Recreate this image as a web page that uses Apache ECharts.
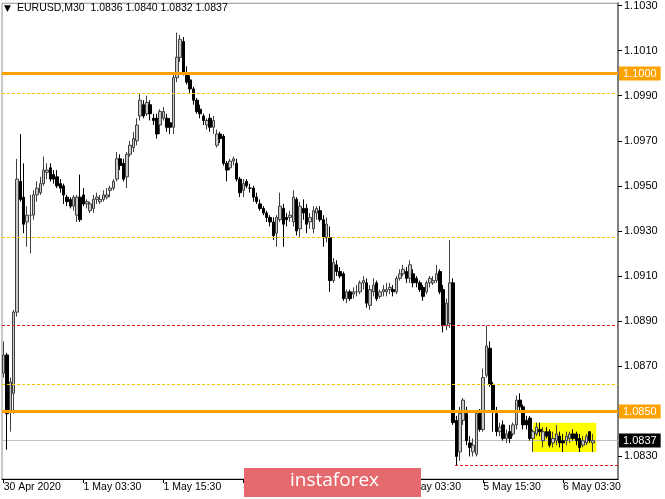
<!DOCTYPE html>
<html><head><meta charset="utf-8">
<script src="https://cdn.jsdelivr.net/npm/echarts@6/dist/echarts.min.js"></script>
<style>html,body{margin:0;padding:0;background:#fff}#c{width:665px;height:499px}</style>
</head><body><div id="c"></div>
<script>
// ---- data (EURUSD M30) ----
const opens = [1.0867,1.0875,1.0850,1.0858,1.0894,1.0952,1.0945,1.0934,1.0937,1.0937,
1.0946,1.0947,1.0951,1.0956,1.0958,1.0955,1.0954,1.0951,1.0950,1.0945,
1.0944,1.0941,1.0937,1.0945,1.0946,1.0942,1.0939,1.0940,1.0944,1.0943,
1.0944,1.0945,1.0948,1.0949,1.0953,1.0962,1.0960,1.0954,1.0964,1.0967,
1.0970,1.0981,1.0986,1.0982,1.0986,1.0980,1.0980,1.0977,1.0980,1.0980,
1.0978,1.0976,1.0998,1.1007,1.1014,1.1000,1.0997,1.0993,1.0988,1.0984,
1.0981,1.0977,1.0980,1.0976,1.0968,1.0973,1.0972,1.0960,1.0958,1.0961,
1.0960,1.0953,1.0948,1.0952,1.0949,1.0949,1.0945,1.0942,1.0940,1.0938,
1.0936,1.0934,1.0929,1.0935,1.0940,1.0936,1.0936,1.0934,1.0944,1.0931,
1.0940,1.0940,1.0934,1.0931,1.0938,1.0939,1.0935,1.0927,1.0927,1.0908,
1.0915,1.0912,1.0911,1.0900,1.0903,1.0902,1.0903,1.0903,1.0907,1.0907,
1.0897,1.0903,1.0907,1.0901,1.0903,1.0903,1.0904,1.0904,1.0903,1.0909,
1.0911,1.0912,1.0909,1.0911,1.0909,1.0907,1.0905,1.0903,1.0907,1.0907,
1.0908,1.0912,1.0904,1.0888,1.0889,1.0907,1.0846,1.0832,1.0846,1.0849,
1.0836,1.0832,1.0831,1.0849,1.0842,1.0866,1.0878,1.0862,1.0849,1.0841,
1.0844,1.0838,1.0841,1.0840,1.0844,1.0855,1.0852,1.0846,1.0847,1.0838,
1.0840,1.0842,1.0837,1.0841,1.0841,1.0836,1.0837,1.0839,1.0837,1.0837,
1.0838,1.0840,1.0840,1.0838,1.0835,1.0836,1.0841,1.0836];
const closes = [1.0875,1.0849,1.0863,1.0894,1.0953,1.0944,1.0933,1.0937,1.0937,1.0946,
1.0949,1.0951,1.0957,1.0957,1.0953,1.0953,1.0950,1.0949,1.0946,1.0943,
1.0941,1.0945,1.0945,1.0935,1.0942,1.0943,1.0942,1.0944,1.0945,1.0944,
1.0946,1.0946,1.0949,1.0952,1.0962,1.0959,1.0953,1.0964,1.0968,1.0971,
1.0977,1.0988,1.0981,1.0987,1.0982,1.0979,1.0973,1.0983,1.0983,1.0976,
1.0976,1.0998,1.1007,1.1015,1.1000,1.0996,1.0993,1.0988,1.0983,1.0982,
1.0979,1.0979,1.0976,1.0979,1.0973,1.0971,1.0960,1.0957,1.0961,1.0962,
1.0953,1.0947,1.0951,1.0950,1.0949,1.0945,1.0943,1.0940,1.0938,1.0936,
1.0934,1.0928,1.0936,1.0941,1.0933,1.0935,1.0937,1.0945,1.0930,1.0941,
1.0938,1.0933,1.0936,1.0939,1.0940,1.0935,1.0927,1.0933,1.0908,1.0916,
1.0912,1.0910,1.0900,1.0903,1.0900,1.0903,1.0903,1.0907,1.0908,1.0898,
1.0904,1.0906,1.0900,1.0903,1.0904,1.0904,1.0905,1.0903,1.0909,1.0911,
1.0913,1.0909,1.0915,1.0907,1.0907,1.0904,1.0901,1.0907,1.0909,1.0908,
1.0911,1.0903,1.0888,1.0898,1.0907,1.0845,1.0830,1.0849,1.0855,1.0837,
1.0834,1.0835,1.0849,1.0842,1.0865,1.0879,1.0862,1.0850,1.0841,1.0843,
1.0838,1.0840,1.0838,1.0844,1.0855,1.0852,1.0844,1.0844,1.0838,1.0841,
1.0843,1.0841,1.0841,1.0839,1.0835,1.0838,1.0840,1.0836,1.0836,1.0839,
1.0840,1.0838,1.0837,1.0834,1.0837,1.0839,1.0837,1.0837];
const highs = [1.0881,1.0876,1.0865,1.0895,1.0962,1.0973,1.0960,1.0941,1.0946,1.0948,
1.0952,1.0954,1.0963,1.0960,1.0960,1.0957,1.0957,1.0953,1.0951,1.0946,
1.0945,1.0946,1.0946,1.0955,1.0949,1.0944,1.0943,1.0946,1.0947,1.0946,
1.0948,1.0949,1.0950,1.0953,1.0965,1.0964,1.0962,1.0965,1.0970,1.0974,
1.0980,1.0991,1.0988,1.0990,1.0988,1.0982,1.0982,1.0984,1.0985,1.0982,
1.0980,1.1000,1.1018,1.1017,1.1016,1.1003,1.0999,1.0994,1.0989,1.0986,
1.0982,1.0980,1.0982,1.0981,1.0975,1.0974,1.0973,1.0961,1.0962,1.0963,
1.0962,1.0954,1.0953,1.0953,1.0951,1.0950,1.0947,1.0944,1.0941,1.0939,
1.0937,1.0936,1.0937,1.0947,1.0942,1.0938,1.0939,1.0948,1.0945,1.0943,
1.0944,1.0942,1.0938,1.0941,1.0941,1.0941,1.0937,1.0936,1.0932,1.0918,
1.0917,1.0914,1.0912,1.0904,1.0904,1.0905,1.0906,1.0908,1.0910,1.0909,
1.0906,1.0909,1.0908,1.0904,1.0906,1.0907,1.0907,1.0906,1.0910,1.0913,
1.0915,1.0914,1.0917,1.0913,1.0910,1.0908,1.0906,1.0908,1.0910,1.0910,
1.0915,1.0913,1.0906,1.0900,1.0926,1.0909,1.0848,1.0852,1.0856,1.0852,
1.0839,1.0838,1.0850,1.0851,1.0869,1.0888,1.0881,1.0863,1.0852,1.0845,
1.0846,1.0842,1.0844,1.0845,1.0857,1.0858,1.0853,1.0848,1.0848,1.0842,
1.0845,1.0845,1.0843,1.0843,1.0842,1.0841,1.0844,1.0841,1.0840,1.0841,
1.0841,1.0842,1.0841,1.0840,1.0839,1.0840,1.0841,1.0840];
const lows = [1.0865,1.0833,1.0841,1.0849,1.0892,1.0943,1.0929,1.0923,1.0920,1.0935,
1.0943,1.0946,1.0950,1.0953,1.0952,1.0951,1.0949,1.0947,1.0942,1.0941,
1.0940,1.0939,1.0934,1.0934,1.0941,1.0940,1.0938,1.0938,1.0942,1.0942,
1.0943,1.0944,1.0945,1.0948,1.0952,1.0957,1.0952,1.0949,1.0963,1.0965,
1.0968,1.0979,1.0980,1.0981,1.0979,1.0977,1.0971,1.0973,1.0979,1.0974,
1.0973,1.0973,1.0996,1.1005,1.0999,1.0995,1.0991,1.0986,1.0982,1.0980,
1.0977,1.0975,1.0974,1.0973,1.0967,1.0969,1.0959,1.0952,1.0957,1.0959,
1.0952,1.0945,1.0945,1.0949,1.0947,1.0943,1.0942,1.0939,1.0937,1.0934,
1.0932,1.0926,1.0923,1.0934,1.0923,1.0932,1.0934,1.0932,1.0928,1.0927,
1.0935,1.0929,1.0931,1.0929,1.0935,1.0934,1.0923,1.0925,1.0903,1.0907,
1.0910,1.0909,1.0899,1.0898,1.0899,1.0900,1.0901,1.0902,1.0904,1.0896,
1.0895,1.0901,1.0899,1.0900,1.0901,1.0901,1.0902,1.0901,1.0902,1.0908,
1.0910,1.0907,1.0907,1.0905,1.0905,1.0903,1.0899,1.0902,1.0905,1.0906,
1.0907,1.0902,1.0885,1.0886,1.0887,1.0844,1.0826,1.0828,1.0844,1.0835,
1.0830,1.0830,1.0830,1.0841,1.0841,1.0865,1.0861,1.0841,1.0839,1.0839,
1.0837,1.0836,1.0836,1.0839,1.0842,1.0850,1.0842,1.0842,1.0837,1.0832,
1.0839,1.0839,1.0834,1.0838,1.0834,1.0834,1.0835,1.0834,1.0832,1.0835,
1.0836,1.0837,1.0835,1.0832,1.0834,1.0835,1.0836,1.0832];

const firstBarTime = Date.UTC(2020, 3, 30, 15, 30);   // first visible bar
const emptyBarsRight = 7;                              // chart shift area
const firstLabel = '30 Apr 2020';
const timeTickLabels = ['1 May 03:30','1 May 15:30','4 May 03:30','4 May 15:30','5 May 03:30','5 May 15:30','6 May 03:30'];
const priceTickLabels = [1.0830,1.0870,1.0890,1.0910,1.0930,1.0950,1.0970,1.0990,1.1010,1.1030];
const priceMin = 1.0820, priceMax = 1.1031;

const orangeLevels = [1.1000, 1.0850];
const yellowLevels = [1.0991, 1.0927, 1.0862];
const redLevels = [1.0888];
const redLowLevels = [1.0826];
const redLowStart = '5 May 11:30';
const lastPrice = [1.0837];
const boxRange = [1.0832, 1.0845];
const boxStart = '5 May 23:00';
const boxEnd = '6 May 08:30';
const headerText = 'EURUSD,M30  1.0836 1.0840 1.0832 1.0837';

// ---- categories (M30 bars, weekend skipped) ----
const MONTHS = ['Jan','Feb','Mar','Apr','May','Jun','Jul','Aug','Sep','Oct','Nov','Dec'];
const categories = [];
for (let t = firstBarTime; categories.length < opens.length + emptyBarsRight; t += 1800000) {
  const d = new Date(t), wd = d.getUTCDay();
  if (wd === 0 || wd === 6) continue;
  categories.push(d.getUTCDate() + ' ' + MONTHS[d.getUTCMonth()] + ' ' +
    String(d.getUTCHours()).padStart(2,'0') + ':' + String(d.getUTCMinutes()).padStart(2,'0'));
}
const candles = categories.map((c, i) => i < opens.length ? [opens[i], closes[i], lows[i], highs[i]] : '-');

const FONT = 'Liberation Sans';
const showTick = (idx, val) => idx === 0 || timeTickLabels.includes(val);

// horizontal level lines: custom series, y from the value axis, snapped to whole pixels
function levelSeries(values, fromCat, color, width, dash, labelBg, z) {
  return {
    type: 'custom', z: z, silent: true, clip: false,
    encode: { x: 0, y: 1 },
    data: values.map(v => [fromCat, v]),
    renderItem: function (params, api) {
      const cs = params.coordSys;
      const startIdx = api.value(0);
      const v = api.value(1);
      const p = api.coord([startIdx, v]);
      const y = Math.round(p[1] - 0.5) + 0.5;
      const x1 = fromCat ? p[0] - 1.5 : cs.x;
      const x2 = cs.x + cs.width;
      const children = [{
        type: 'line', shape: { x1: x1, y1: y, x2: x2, y2: y },
        style: { stroke: color, lineWidth: width, lineDash: dash || null }
      }];
      if (labelBg) {
        children.push({
          type: 'text', x: x2 + 1, y: y,
          style: { text: v.toFixed(4), fill: '#fff', backgroundColor: labelBg,
            font: '11px "' + FONT + '"', verticalAlign: 'middle', align: 'left',
            padding: [1, 4, 0, 4], lineHeight: 13 }
        });
      }
      return { type: 'group', children: children };
    }
  };
}

const chart = echarts.init(document.getElementById('c'), null, { renderer: 'canvas' });
chart.setOption({
  animation: false,
  backgroundColor: '#ffffff',
  grid: { left: 2, right: 47, top: 2, bottom: 20, show: true, borderColor: '#909090', borderWidth: 1 },
  xAxis: {
    type: 'category', data: categories, boundaryGap: true,
    axisLine: { show: true, lineStyle: { color: '#000', width: 1 } },
    axisTick: { show: true, alignWithLabel: true, interval: showTick, length: 4, lineStyle: { color: '#000' } },
    axisLabel: { interval: showTick, align: 'left', margin: 3, color: '#000', fontFamily: FONT, fontSize: 10.5,
      formatter: (v, i) => i === 0 ? firstLabel : v },
    splitLine: { show: false }
  },
  yAxis: {
    type: 'value', position: 'right', min: priceMin, max: priceMax, scale: true,
    axisLine: { show: true, lineStyle: { color: '#808080', width: 2 } },
    axisTick: { show: true, customValues: priceTickLabels, length: 4, lineStyle: { color: '#000' } },
    axisLabel: { customValues: priceTickLabels, margin: 6, color: '#000', fontFamily: FONT, fontSize: 11,
      formatter: v => v.toFixed(4) },
    splitLine: { show: false }
  },
  series: [
    {
      type: 'line', data: [], z: 1, silent: true,
      markArea: { silent: true, itemStyle: { color: '#ffff00', opacity: 1 },
        data: [[{ xAxis: boxStart, yAxis: boxRange[1] }, { xAxis: boxEnd, yAxis: boxRange[0] }]] }
    },
    levelSeries(lastPrice, categories[0], '#c0c0c0', 1, null, '#000000', 2),
    {
      type: 'candlestick', data: candles, z: 3, barWidth: 3,
      itemStyle: { color: '#c8c8c8', color0: '#000000', borderColor: '#404040', borderColor0: '#000000', borderWidth: 1 }
    },
    levelSeries(redLevels, null, '#e8141a', 1, [3, 2], null, 4),
    levelSeries(redLowLevels, redLowStart, '#e8141a', 1, [3, 2], null, 4),
    levelSeries(yellowLevels, null, '#f5c400', 1, [3, 2], null, 4),
    levelSeries(orangeLevels, null, '#ffa200', 3, null, '#ffa200', 5)
  ],
  graphic: [
    { type: 'text', left: 4, top: 4, style: { text: '▼', fontFamily: 'DejaVu Sans', fontSize: 9, fill: '#000' } },
    { type: 'text', left: 17, top: 3, style: { text: headerText, fontFamily: FONT, fontSize: 10.5, fill: '#000' } },
    { type: 'rect', left: 244, top: 468, shape: { width: 177, height: 29 }, style: { fill: '#e46a6e' }, z: 100 },
    { type: 'text', left: 290, top: 471, style: { text: 'instaforex', fontFamily: 'Open Sans', fontSize: 19, fill: '#ffffff' }, z: 101 }
  ]
});
</script>
</body></html>
